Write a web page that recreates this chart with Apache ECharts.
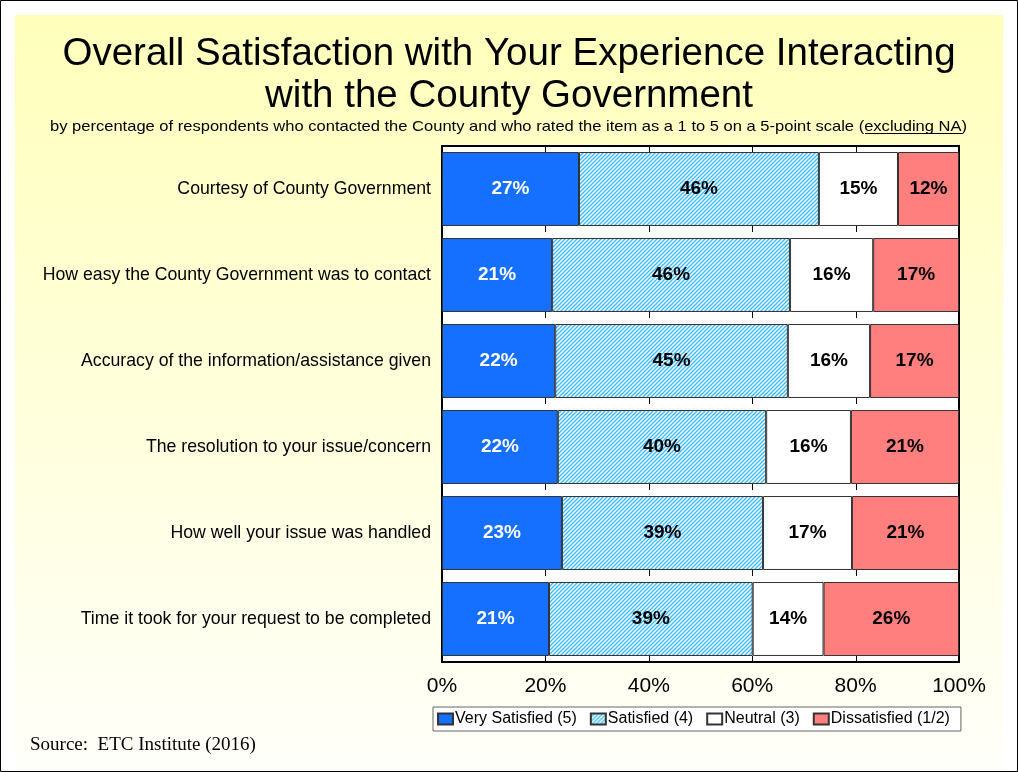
<!DOCTYPE html>
<html>
<head>
<meta charset="utf-8">
<script src="https://cdn.jsdelivr.net/npm/echarts@6/dist/echarts.min.js"></script>
<style>
  html, body { margin: 0; padding: 0; background: #fff; }
  #main { width: 1018px; height: 772px; }
</style>
</head>
<body>
<div id="main"></div>
<script>
var categories = [
  'Courtesy of County Government',
  'How easy the County Government was to contact',
  'Accuracy of the information/assistance given',
  'The resolution to your issue/concern',
  'How well your issue was handled',
  'Time it took for your request to be completed'
];
var verySatisfied = [26.5, 21.3, 21.9, 22.4, 23.2, 20.7];
var satisfied     = [46.4, 46.0, 45.0, 40.3, 38.9, 39.4];
var neutral       = [15.3, 16.1, 15.9, 16.4, 17.2, 13.7];
var dissatisfied  = [11.8, 16.6, 17.2, 20.9, 20.7, 26.2];
var seriesNames = ['Very Satisfied (5)', 'Satisfied (4)', 'Neutral (3)', 'Dissatisfied (1/2)'];
var xTicks = ['0%', '20%', '40%', '60%', '80%', '100%'];
var innerTicks = [20, 40, 60, 80];

var gap = 0.14;

// hatch pattern for "Satisfied"
function hatch() {
    var c = document.createElement('canvas');
    c.width = 4; c.height = 4;
    var ctx = c.getContext('2d');
    ctx.fillStyle = '#fff';
    ctx.fillRect(0, 0, 4, 4);
    ctx.strokeStyle = '#33bbff';
    ctx.lineWidth = 1.3;
    ctx.beginPath();
    ctx.moveTo(-1, 5); ctx.lineTo(5, -1);
    ctx.moveTo(-1, 1); ctx.lineTo(1, -1);
    ctx.moveTo(3, 5); ctx.lineTo(5, 3);
    ctx.stroke();
    return c;
}

var font = '"Liberation Sans", Arial, sans-serif';

function bar(name, data, color, labelColor) {
    return {
        name: name,
        type: 'bar',
        stack: 'all',
        data: data,
        barCategoryGap: (gap * 100) + '%',
        itemStyle: { color: color, borderColor: '#333', borderWidth: 1 },
        label: {
            show: true,
            position: 'inside',
            color: labelColor,
            fontFamily: font,
            fontWeight: 'bold',
            fontSize: 19,
            formatter: function(p) { return Math.round(p.value) + '%'; }
        }
    };
}

// little tick marks in the gaps between bars
function tickLine(x, y1, y2) {
    return {
        type: 'line',
        shape: { x1: Math.round(x) + 0.5, y1: y1, x2: Math.round(x) + 0.5, y2: y2 },
        style: { stroke: '#000', lineWidth: 1 }
    };
}
function renderTicks(params, api) {
    var idx = api.value(0);
    var cy = api.coord([0, idx])[1];
    var band = api.size([0, 1])[1];
    var barH = band * (1 - gap);
    var children = [];
    innerTicks.forEach(function(v) {
        var x = api.coord([v, idx])[0];
        if (idx === 0) children.push(tickLine(x, cy - band / 2, cy - barH / 2));
        children.push(tickLine(x, cy + barH / 2, cy + barH / 2 + 6));
    });
    return { type: 'group', children: children };
}

var chart = echarts.init(document.getElementById('main'));
chart.setOption({
    animation: false,
    backgroundColor: '#fff',
    graphic: [
        {
            type: 'rect', z: -100, silent: true,
            shape: { x: 15, y: 15, width: 988, height: 757 },
            style: {
                fill: new echarts.graphic.LinearGradient(0, 0, 0, 1, [
                    { offset: 0, color: '#ffffbb' },
                    { offset: 1, color: '#fffffa' }
                ])
            }
        },
        {
            type: 'rect', z: 100, silent: true,
            shape: { x: 0.5, y: 0.5, width: 1017, height: 771 },
            style: { fill: 'none', stroke: '#000', lineWidth: 1 }
        },
        {
            type: 'text', x: 50, y: 127, z: 50, scaleX: 1.14, silent: true,
            style: {
                text: 'by percentage of respondents who contacted the County and who rated the item as a 1 to 5 on a 5-point scale (excluding NA)',
                fontSize: 14.5, fontFamily: font, fill: '#000',
                verticalAlign: 'middle', align: 'left'
            }
        },
        {
            type: 'line', z: 50, silent: true,
            shape: { x1: 865, y1: 133.5, x2: 962, y2: 133.5 },
            style: { stroke: '#000', lineWidth: 1 }
        },
        {
            type: 'text', x: 30, y: 745, z: 50, silent: true,
            style: {
                text: 'Source:  ETC Institute (2016)',
                fontSize: 19, fontFamily: '"Liberation Serif", "Times New Roman", serif', fill: '#000',
                verticalAlign: 'middle'
            }
        }
    ],
    title: {
        text: 'Overall Satisfaction with Your Experience Interacting\nwith the County Government',
        left: 'center',
        top: 28,
        textStyle: { fontFamily: font, fontSize: 38.5, fontWeight: 'normal', color: '#000', lineHeight: 42 }
    },
    legend: {
        data: seriesNames,
        left: 433,
        top: 707,
        padding: [4, 11, 4, 4],
        itemGap: 13,
        itemWidth: 15,
        itemHeight: 11,
        icon: 'rect',
        backgroundColor: '#fff',
        borderColor: '#666',
        borderWidth: 1,
        borderRadius: 0,
        textStyle: { fontFamily: font, fontSize: 16, lineHeight: 16, color: '#000', padding: [0, 0, 0, -3] }
    },
    grid: {
        left: 442, right: 59, top: 146, bottom: 110,
        show: true, backgroundColor: '#fff', borderColor: '#000', borderWidth: 2,
        containLabel: false
    },
    xAxis: {
        type: 'value',
        min: 0, max: 100, interval: 20,
        splitLine: { show: false },
        axisLine: { show: true, lineStyle: { color: '#000', width: 2 } },
        axisTick: { show: false },
        axisLabel: {
            fontFamily: font, fontSize: 21, color: '#000', margin: 14,
            formatter: function(v) { return xTicks[v / 20]; }
        }
    },
    yAxis: {
        type: 'category',
        inverse: true,
        data: categories,
        axisLine: { show: true, lineStyle: { color: '#000', width: 2 } },
        axisTick: { show: false },
        axisLabel: { fontFamily: font, fontSize: 17.7, color: '#000', margin: 11 }
    },
    series: [
        bar(seriesNames[0], verySatisfied, '#1570ff', '#fff'),
        bar(seriesNames[1], satisfied, { image: hatch(), repeat: 'repeat' }, '#000'),
        bar(seriesNames[2], neutral, '#fff', '#000'),
        bar(seriesNames[3], dissatisfied, '#ff7f7f', '#000'),
        {
            type: 'custom',
            name: 'ticks',
            silent: true,
            z: 5,
            renderItem: renderTicks,
            encode: { y: 0 },
            data: categories.map(function(c, i) { return [i]; })
        }
    ]
});
</script>
</body>
</html>
